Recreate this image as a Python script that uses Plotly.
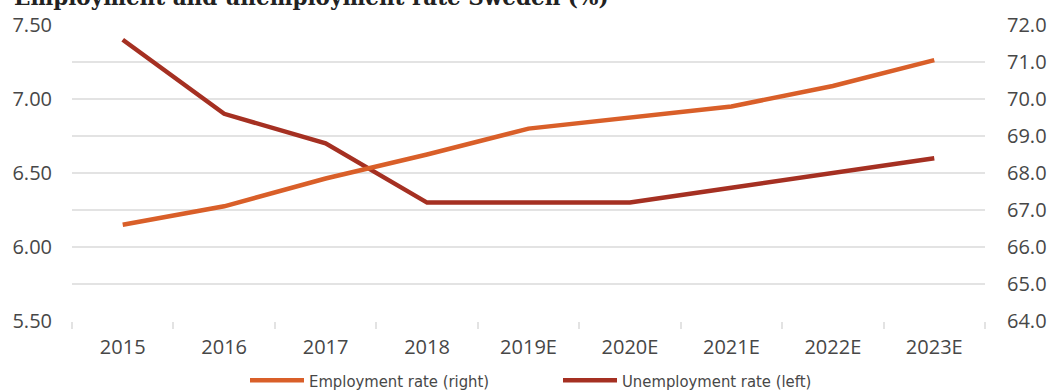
import plotly.graph_objects as go

# Years on the category axis
years = ["2015", "2016", "2017", "2018", "2019E", "2020E", "2021E", "2022E", "2023E"]

# Employment rate, % (right axis)
employment = [66.6, 67.1, 67.85, 68.5, 69.2, 69.5, 69.8, 70.35, 71.05]

# Unemployment rate, % (left axis)
unemployment = [7.40, 6.90, 6.70, 6.30, 6.30, 6.30, 6.40, 6.50, 6.60]

left_ticks = [5.50, 6.00, 6.50, 7.00, 7.50]
right_ticks = [64.0, 65.0, 66.0, 67.0, 68.0, 69.0, 70.0, 71.0, 72.0]

ORANGE = "#D95F29"
DARKRED = "#A53022"
GRID = "#e3e3e3"
TEXT = "#474747"
TICKFONT = dict(family="Open Sans", size=20, color=TEXT)

fig = go.Figure()

fig.add_trace(go.Scatter(
    x=years, y=employment, name="Employment rate (right)",
    mode="lines", line=dict(color=ORANGE, width=4.5),
    yaxis="y2", legend="legend",
))
fig.add_trace(go.Scatter(
    x=years, y=unemployment, name="Unemployment rate (left)",
    mode="lines", line=dict(color=DARKRED, width=4.5),
    yaxis="y", legend="legend2",
))

legend_common = dict(
    orientation="h", xref="container", yref="container",
    xanchor="left", yanchor="middle", y=0.024,
    font=dict(family="DejaVu Sans Condensed", size=16.5, color=TEXT),
    itemwidth=54, bgcolor="rgba(0,0,0,0)",
    tracegroupgap=0, itemclick=False,
)

fig.update_layout(
    width=1051, height=390,
    margin=dict(l=72, r=66, t=25, b=69, autoexpand=False),
    plot_bgcolor="white", paper_bgcolor="white",
    showlegend=True,
    legend=dict(x=245 / 1051, **legend_common),
    legend2=dict(x=558 / 1051, **legend_common),
    xaxis=dict(
        type="category", range=[-0.5, 8.5], automargin=False,
        tickson="boundaries", ticks="outside", ticklen=7,
        tickcolor=GRID, tickwidth=1.5,
        showgrid=False, showline=False, zeroline=False,
        tickfont=TICKFONT, ticklabelstandoff=12,
    ),
    yaxis=dict(
        range=[5.5, 7.5], tickvals=left_ticks, automargin=False,
        ticktext=[f"{v:.2f}" for v in left_ticks],
        showgrid=True, gridcolor=GRID, gridwidth=1.5,
        minor=dict(dtick=0.25, showgrid=True, gridcolor=GRID, gridwidth=1.5, tick0=5.5),
        zeroline=False, showline=False, ticks="",
        tickfont=TICKFONT, ticklabelstandoff=19,
    ),
    yaxis2=dict(
        range=[64, 72], tickvals=right_ticks, automargin=False,
        ticktext=[f"{v:.1f}" for v in right_ticks],
        overlaying="y", side="right",
        showgrid=False, zeroline=False, showline=False, ticks="",
        tickfont=TICKFONT, ticklabelstandoff=21,
    ),
    annotations=[dict(
        text="<b>Employment and unemployment rate Sweden (%)</b>",
        xref="paper", yref="paper", x=-60 / 913, y=1 + 13 / 296,
        xanchor="left", yanchor="bottom", showarrow=False,
        font=dict(family="DejaVu Serif", size=21.5, color="#222222"),
    )],
)

fig.write_html("out.html")
